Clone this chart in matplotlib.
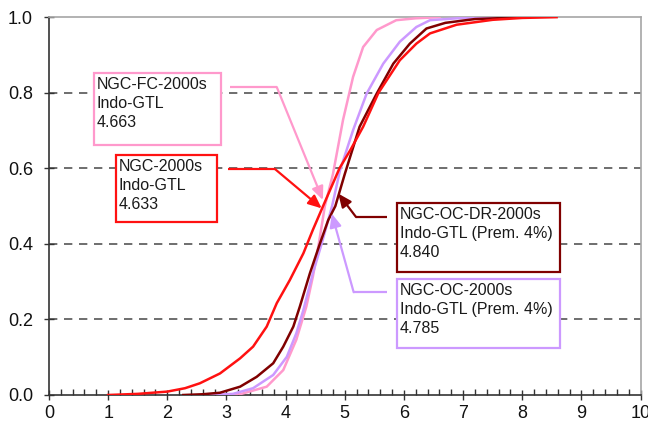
import numpy as np
import matplotlib
matplotlib.use("Agg")
import matplotlib.pyplot as plt
from matplotlib.patches import Rectangle
from matplotlib.ticker import MultipleLocator, FormatStrFormatter

plt.rcParams["font.family"] = ["Liberation Sans", "DejaVu Sans"]

# Empirical CDF curves (x value, cumulative share) for each scenario
red_x = [1.0, 1.5, 2.0, 2.3, 2.55, 2.89, 3.23, 3.45, 3.68, 3.85, 4.07, 4.30,
         4.46, 4.633, 4.91, 5.1, 5.31, 5.57, 5.93, 6.21, 6.44, 6.89, 7.5,
         8.0, 8.58]
red_y = [0.0, 0.003, 0.009, 0.018, 0.031, 0.057, 0.097, 0.128, 0.181, 0.243,
         0.304, 0.375, 0.437, 0.5, 0.6, 0.65, 0.71, 0.8, 0.886, 0.93, 0.957,
         0.98, 0.993, 0.998, 1.0]

dr_x = [2.27, 2.6, 2.89, 3.23, 3.51, 3.79, 3.96, 4.13, 4.24, 4.41, 4.58,
        4.72, 4.84, 5.0, 5.25, 5.54, 5.82, 6.10, 6.38, 6.7, 7.2, 8.09]
dr_y = [0.0, 0.002, 0.006, 0.022, 0.048, 0.084, 0.128, 0.181, 0.234, 0.322,
        0.401, 0.463, 0.5, 0.585, 0.71, 0.798, 0.877, 0.93, 0.97, 0.985,
        0.995, 1.0]

oc_x = [2.66, 3.11, 3.45, 3.79, 4.02, 4.18, 4.30, 4.46, 4.61, 4.785, 4.92,
        5.14, 5.37, 5.65, 5.93, 6.21, 6.44, 6.9, 7.6]
oc_y = [0.0, 0.003, 0.018, 0.053, 0.101, 0.163, 0.225, 0.322, 0.401, 0.5,
        0.595, 0.701, 0.798, 0.877, 0.935, 0.974, 0.992, 0.997, 1.0]

fc_x = [3.0, 3.23, 3.68, 3.96, 4.18, 4.35, 4.46, 4.56, 4.663, 4.80, 4.97,
        5.14, 5.31, 5.54, 5.87, 6.2, 6.6]
fc_y = [0.0, 0.002, 0.022, 0.066, 0.146, 0.234, 0.313, 0.4, 0.5, 0.585,
        0.728, 0.842, 0.921, 0.966, 0.992, 0.997, 1.0]

names = ["NGC-FC-2000s", "NGC-2000s", "NGC-OC-DR-2000s", "NGC-OC-2000s"]
subtitles = ["Indo-GTL", "Indo-GTL", "Indo-GTL (Prem. 4%)", "Indo-GTL (Prem. 4%)"]
medians = ["4.663", "4.633", "4.840", "4.785"]
colors = ["#ff99cc", "#ff1111", "#800000", "#cc99ff"]

# label box (x0, y0, x1, y1) and callout path start, bend, arrow tip
boxes = [(0.76, 0.661, 2.91, 0.852),
         (1.13, 0.458, 2.84, 0.635),
         (5.88, 0.325, 8.63, 0.508),
         (5.88, 0.124, 8.63, 0.307)]
callouts = [((3.06, 0.815), (3.85, 0.815), (4.63, 0.516)),
            ((3.02, 0.598), (3.82, 0.598), (4.61, 0.494)),
            ((5.71, 0.471), (5.19, 0.471), (4.89, 0.533)),
            ((5.71, 0.272), (5.15, 0.272), (4.78, 0.480))]

fig = plt.figure(figsize=(6.48, 4.25), dpi=100)
ax = fig.add_axes([0.0756, 0.0706, 0.913, 0.889])

ax.plot(fc_x, fc_y, color=colors[0], lw=1.8, zorder=3)
ax.plot(oc_x, oc_y, color=colors[3], lw=1.8, zorder=3)
ax.plot(dr_x, dr_y, color=colors[2], lw=1.8, zorder=4)
ax.plot(red_x, red_y, color=colors[1], lw=1.8, zorder=4)

ax.set_xlim(0, 10)
ax.set_ylim(0, 1.0)
ax.xaxis.set_major_locator(MultipleLocator(1))
ax.xaxis.set_minor_locator(MultipleLocator(0.2))
ax.yaxis.set_major_locator(MultipleLocator(0.2))
ax.yaxis.set_major_formatter(FormatStrFormatter("%.1f"))
ax.tick_params(axis="both", which="major", direction="inout", length=7,
               width=1, labelsize=13, color="#333333", labelcolor="#111111")
ax.tick_params(axis="x", which="minor", direction="in", length=4, width=1,
               color="#333333")
ax.tick_params(axis="x", pad=4)
ax.tick_params(axis="y", pad=8)

for yv in [0.2, 0.4, 0.6, 0.8]:
    ax.axhline(yv, color="#555555", lw=1.2, ls=(0, (5, 4)), zorder=1)

for side in ["left", "bottom"]:
    ax.spines[side].set_color("#333333")
    ax.spines[side].set_linewidth(1.2)
for side in ["top", "right"]:
    ax.spines[side].set_color("#a6a6a6")
    ax.spines[side].set_linewidth(1.2)

for i in range(4):
    x0, y0, x1, y1 = boxes[i]
    ax.add_patch(Rectangle((x0, y0), x1 - x0, y1 - y0, facecolor="white",
                           edgecolor=colors[i], lw=1.6, zorder=5))
    ax.text(x0 + 0.05, y1 - 0.01, f"{names[i]}\n{subtitles[i]}\n{medians[i]}",
            ha="left", va="top", fontsize=11.5, linespacing=1.33,
            color="#1a1a1a", zorder=6)
    start, bend, tip = callouts[i]
    ax.plot([start[0], bend[0]], [start[1], bend[1]], color=colors[i],
            lw=1.6, zorder=6, solid_capstyle="butt")
    ax.annotate("", xy=tip, xytext=bend,
                arrowprops=dict(arrowstyle="-|>,head_length=0.8,head_width=0.35",
                                color=colors[i], lw=1.6, shrinkA=0, shrinkB=0),
                zorder=6)

fig.savefig("out.png", dpi=100)
